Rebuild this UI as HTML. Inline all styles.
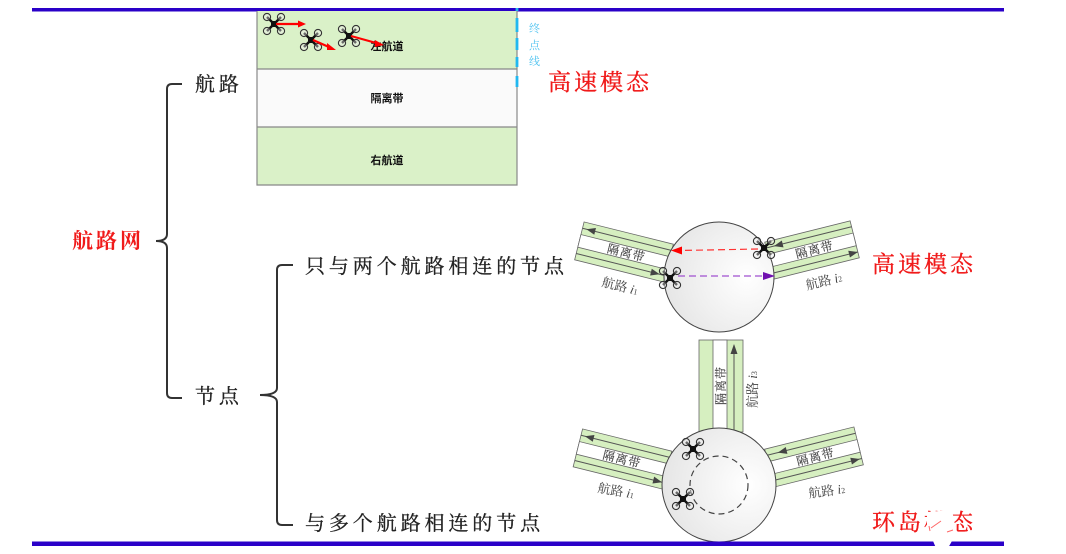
<!DOCTYPE html>
<html><head><meta charset="utf-8">
<style>
html,body{margin:0;padding:0;background:#fff;width:1066px;height:554px;overflow:hidden}
svg{display:block;filter:blur(.35px)}
text{font-family:"Liberation Serif","Noto Serif CJK SC",serif}
.h{font-family:"Liberation Sans","Noto Sans CJK SC",sans-serif;font-weight:700;font-size:11px;fill:#111;text-anchor:middle}
.t{font-size:20px;fill:#222;letter-spacing:3.9px;stroke:#222;stroke-width:.3}
.r{font-size:23px;fill:#f01a1a;letter-spacing:3px;stroke:#f01a1a;stroke-width:.35}
.s{font-size:13px;fill:#444}
.m{font-size:12px;fill:#444;letter-spacing:1px;stroke:#444;stroke-width:.15}
.b{fill:none;stroke:#333;stroke-width:2}
.l{stroke:#555;stroke-width:1;fill:none}
</style></head><body>
<svg width="1066" height="554" viewBox="0 0 1066 554" xmlns="http://www.w3.org/2000/svg">
<defs>
<g id="d">
<path d="M-7-7L7 7M7-7L-7 7" stroke="#111" stroke-width="2.4"/>
<circle cx="-7" cy="-7" r="3.6" fill="#eee" fill-opacity=".4" stroke="#333" stroke-width="1.1"/>
<circle cx="7" cy="-7" r="3.6" fill="#eee" fill-opacity=".4" stroke="#333" stroke-width="1.1"/>
<circle cx="-7" cy="7" r="3.6" fill="#eee" fill-opacity=".4" stroke="#333" stroke-width="1.1"/>
<circle cx="7" cy="7" r="3.6" fill="#eee" fill-opacity=".4" stroke="#333" stroke-width="1.1"/>
<rect x="-3" y="-3" width="6" height="6" fill="#111"/>
</g>
<radialGradient id="c" cx=".75" cy=".5" r=".8"><stop offset="0" stop-color="#fff"/><stop offset="1" stop-color="#e4e4e4"/></radialGradient>
</defs>

<rect x="32" y="8" width="972" height="3.500" fill="#2a00c8"/>

<!-- top road -->
<rect x="257" y="11" width="260" height="58" fill="#daf1c8"/>
<rect x="257" y="69" width="260" height="58" fill="#fafafa"/>
<rect x="257" y="127" width="260" height="58" fill="#daf1c8"/>
<path d="M257 11V185H517V11M257 69H517M257 127H517" fill="none" stroke="#888" stroke-width="1.200"/>
<path d="M517 8V11M517 18V32M517 38V50M517 57V67M517 76V87" stroke="#22b8f0" stroke-width="2.800" fill="none"/>
<text class="h" x="387" y="50">左航道</text>
<text class="h" x="387" y="102">隔离带</text>
<text class="h" x="387" y="164">右航道</text>
<text x="529" y="32" style="font-size:11px;fill:#4fc3f0">终</text>
<text x="529" y="49" style="font-size:11px;fill:#4fc3f0">点</text>
<text x="529" y="65" style="font-size:11px;fill:#4fc3f0">线</text>
<use href="#d" x="274" y="24"/><use href="#d" x="311" y="40"/><use href="#d" x="349" y="36"/>
<g stroke="#f00" stroke-width="2.200" fill="#f00">
<path d="M276 24H300"/><path d="M306 24L298 20.500V27.500Z" stroke="none"/>
<path d="M313 40L330 47.500"/><path d="M336 50L327 50V43Z" stroke="none"/>
<path d="M351 36L378 43.500"/><path d="M384 45L375 47V40Z" stroke="none"/>
</g>

<!-- braces -->
<path class="b" d="M182 84H172Q167 84 167 89V234Q167 241 156 241Q167 241 167 248V393Q167 398 172 398H182"/>
<path class="b" d="M293 265H282Q277 265 277 270V388Q277 395 260 395Q277 395 277 402V520Q277 525 282 525H293"/>

<text class="t" x="195" y="91">航路</text>
<text class="t" x="195" y="403">节点</text>
<text class="t" x="305" y="273">只与两个航路相连的节点</text>
<text class="t" x="305" y="530">与多个航路相连的节点</text>
<text x="72" y="248" style="font-size:21px;fill:#f01a1a;font-weight:700;letter-spacing:3px">航路网</text>
<text class="r" x="548" y="90">高速模态</text>
<text class="r" x="872" y="272">高速模态</text>
<text class="r" x="872" y="530">环岛模态</text>

<!-- node 1 roads -->
<g transform="translate(624 252) rotate(14)">
<rect x="-46" y="-19.500" width="92" height="39" fill="#d6efc0" stroke="#666" stroke-width=".8"/>
<rect x="-46" y="-6.500" width="92" height="13" fill="#fff" stroke="#666" stroke-width=".8"/>
<path class="l" d="M-46-13H46M-46 13H46"/>
<path d="M-42-13l9-3.500v7z" fill="#444"/><path d="M40 13l-9-3.500v7z" fill="#444"/>
<text x="-17" y="4.500" class="m">隔离带</text>
</g>
<g transform="translate(812 250) rotate(-14)">
<rect x="-44" y="-19" width="88" height="38" fill="#d6efc0" stroke="#666" stroke-width=".8"/>
<rect x="-44" y="-6.500" width="88" height="13" fill="#fff" stroke="#666" stroke-width=".8"/>
<path class="l" d="M-44-13H44M-44 13H44"/>
<path d="M-36-13l9-3.500v7z" fill="#444"/><path d="M44 13l-9-3.500v7z" fill="#444"/>
<text x="-17" y="4.500" class="m">隔离带</text>
</g>
<circle cx="719" cy="277" r="55" fill="url(#c)" stroke="#444" stroke-width="1"/>
<path d="M758 249L680 250.500" stroke="#f33" stroke-width="1.200" stroke-dasharray="7 4" fill="none"/>
<path d="M671 250.500L682 246.500V254.500Z" fill="#f00"/>
<path d="M678 276H765" stroke="#a050d0" stroke-width="1.200" stroke-dasharray="7 4" fill="none"/>
<path d="M775 276L763 272V280Z" fill="#7010b0"/>
<use href="#d" x="670" y="278"/><use href="#d" x="764" y="248"/>
<text transform="translate(601 286) rotate(14)" class="s">航路 <tspan font-style="italic">i</tspan><tspan font-size="8">1</tspan></text>
<text transform="translate(807 290) rotate(-14)" class="s">航路 <tspan font-style="italic">i</tspan><tspan font-size="8">2</tspan></text>

<!-- node 2 roads -->
<rect x="699" y="340" width="44" height="92" fill="#d6efc0" stroke="#666" stroke-width=".8"/>
<rect x="713" y="340" width="14" height="92" fill="#fff" stroke="#666" stroke-width=".8"/>
<path class="l" d="M734 345V432"/><path d="M734 344l-3.500 10h7z" fill="#444"/>
<text transform="translate(725 405) rotate(-90)" class="m">隔离带</text>
<text transform="translate(757 408) rotate(-90)" class="s">航路 <tspan font-style="italic">i</tspan><tspan font-size="8">3</tspan></text>
<g transform="translate(622.500 459) rotate(14)">
<rect x="-46" y="-19.500" width="92" height="39" fill="#d6efc0" stroke="#666" stroke-width=".8"/>
<rect x="-46" y="-6.500" width="92" height="13" fill="#fff" stroke="#666" stroke-width=".8"/>
<path class="l" d="M-46-13H46M-46 13H46"/>
<path d="M-42-13l9-3.500v7z" fill="#444"/><path d="M44 13l-9-3.500v7z" fill="#444"/>
<text x="-20" y="4.500" class="m">隔离带</text>
</g>
<g transform="translate(814 457) rotate(-14)">
<rect x="-46" y="-19.500" width="92" height="39" fill="#d6efc0" stroke="#666" stroke-width=".8"/>
<rect x="-46" y="-6.500" width="92" height="13" fill="#fff" stroke="#666" stroke-width=".8"/>
<path class="l" d="M-46-13H46M-46 13H46"/>
<path d="M-34-13l9-3.500v7z" fill="#444"/><path d="M44 13l-9-3.500v7z" fill="#444"/>
<text x="-18" y="4.500" class="m">隔离带</text>
</g>
<circle cx="719" cy="485" r="57" fill="url(#c)" stroke="#444" stroke-width="1"/>
<circle cx="719" cy="485" r="29" fill="none" stroke="#444" stroke-width="1.200" stroke-dasharray="6 4"/>
<use href="#d" x="693" y="449"/><use href="#d" x="683" y="499"/>
<text transform="translate(597 492) rotate(10)" class="s">航路 <tspan font-style="italic">i</tspan><tspan font-size="8">1</tspan></text>
<text transform="translate(809 498) rotate(-8)" class="s">航路 <tspan font-style="italic">i</tspan><tspan font-size="8">2</tspan></text>

<rect x="32" y="541.500" width="972" height="4.500" fill="#2a00c8"/>

<!-- watermark erasing part of the label -->
<path d="M927 512L952 510L956 530L952 541L948 548H936L933 541H927Z" fill="#fff"/>
<path d="M931 528L941 521M947 532L953 530M929 526L930 531" stroke="#f66" stroke-width="1" fill="none"/>
</svg>
</body></html>
